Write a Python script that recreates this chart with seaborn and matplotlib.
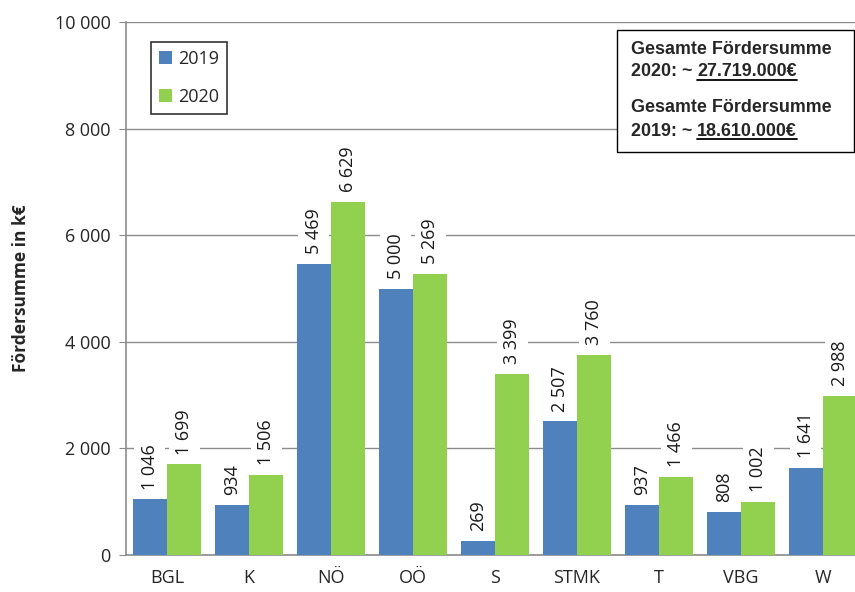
import pandas as pd
import matplotlib.pyplot as plt
import seaborn as sns
from matplotlib.patches import Rectangle
from matplotlib.lines import Line2D

# data
regions = ["BGL", "K", "NÖ", "OÖ", "S", "STMK", "T", "VBG", "W"]
werte_2019 = [1046, 934, 5469, 5000, 269, 2507, 937, 808, 1641]
werte_2020 = [1699, 1506, 6629, 5269, 3399, 3760, 1466, 1002, 2988]
summe_2020 = "27.719.000€"
summe_2019 = "18.610.000€"

df = pd.DataFrame({
    "Region": regions * 2,
    "Jahr": ["2019"] * len(regions) + ["2020"] * len(regions),
    "Wert": werte_2019 + werte_2020,
})

def fmt(v):
    return f"{v:,.0f}".replace(",", " ")

sns.set_style("white")
plt.rcParams["font.family"] = ["Open Sans", "DejaVu Sans"]

W, H = 855, 592
fig = plt.figure(figsize=(W / 100, H / 100), dpi=100)
# Diagrammfläche läuft rechts etwas über den Bildrand hinaus (wie im Original)
ax = fig.add_axes([126 / W, 37 / H, 738 / W, 533 / H])

farben = {"2019": "#4F81BD", "2020": "#92D050"}
sns.barplot(data=df, x="Region", y="Wert", hue="Jahr", palette=farben,
            width=0.84, saturation=1, linewidth=0, ax=ax, zorder=3)

for cont in ax.containers:
    ax.bar_label(cont, labels=[fmt(v) for v in cont.datavalues], rotation=90,
                 padding=7, fontsize=13, color="#1a1a1a",
                 bbox=dict(boxstyle="square,pad=0.35", fc="white", ec="none"),
                 zorder=4)

ax.set_ylim(0, 10000)
ax.set_xlim(-0.5, len(regions) - 0.5)
ax.set_yticks(range(0, 10001, 2000))
ax.set_yticklabels([fmt(v) for v in range(0, 10001, 2000)], fontsize=13)
ax.yaxis.grid(True, color="#8c8c8c", lw=1, zorder=0)
ax.set_axisbelow(True)

ax.set_xticks(range(len(regions)))
ax.set_xticklabels(regions, fontsize=13)
ax.tick_params(axis="x", length=0, pad=10)
ax.set_xticks([i - 0.5 for i in range(len(regions) + 1)], minor=True)
ax.tick_params(axis="x", which="minor", length=6, color="#8c8c8c", direction="out")
ax.tick_params(axis="y", length=5, color="#8c8c8c", direction="out", left=True, pad=6)

for s in ["top", "right"]:
    ax.spines[s].set_visible(False)
for s in ["left", "bottom"]:
    ax.spines[s].set_color("#8c8c8c")
    ax.spines[s].set_linewidth(1.2)

ax.set_xlabel("")
ax.set_ylabel("Fördersumme in k€", fontsize=12.5, fontweight="bold", labelpad=18)

leg = ax.legend(loc="upper left", bbox_to_anchor=(25 / 738, 513 / 533), fontsize=13,
                frameon=True, fancybox=False, edgecolor="black", borderaxespad=0,
                handlelength=0.7, handleheight=0.7, handletextpad=0.35,
                labelspacing=1.08, borderpad=0.45, title=None)
leg.get_frame().set_linewidth(1.2)

# Summenbox (Pixelkoordinaten von oben gemessen)
def fx(px):
    return px / W

def fy(py):
    return 1 - py / H

fig.add_artist(Rectangle((fx(617), fy(152)), fx(854) - fx(617), fy(30) - fy(152),
                         transform=fig.transFigure, fc="white", ec="black",
                         lw=1, zorder=5))
bold = dict(fontsize=12.9, fontweight="bold", family=["Liberation Sans", "DejaVu Sans"],
            va="center", ha="left", zorder=6)
fig.text(fx(631), fy(49), "Gesamte Fördersumme", **bold)
t1 = fig.text(fx(631), fy(72), "2020: ~ ", **bold)
fig.text(fx(631), fy(108), "Gesamte Fördersumme", **bold)
t2 = fig.text(fx(631), fy(131), "2019: ~ ", **bold)

fig.canvas.draw()
r = fig.canvas.get_renderer()
for t, betrag in [(t1, summe_2020), (t2, summe_2019)]:
    bb = t.get_window_extent(r)
    a = fig.text(bb.x1 / W, t.get_position()[1], betrag, **bold)
    fig.canvas.draw()
    ab = a.get_window_extent(r)
    fig.add_artist(Line2D([ab.x0 / W, ab.x1 / W], [(ab.y0 + 0.5) / H] * 2,
                          transform=fig.transFigure, color="black", lw=1.3, zorder=6))

fig.savefig("out.png", dpi=100)
